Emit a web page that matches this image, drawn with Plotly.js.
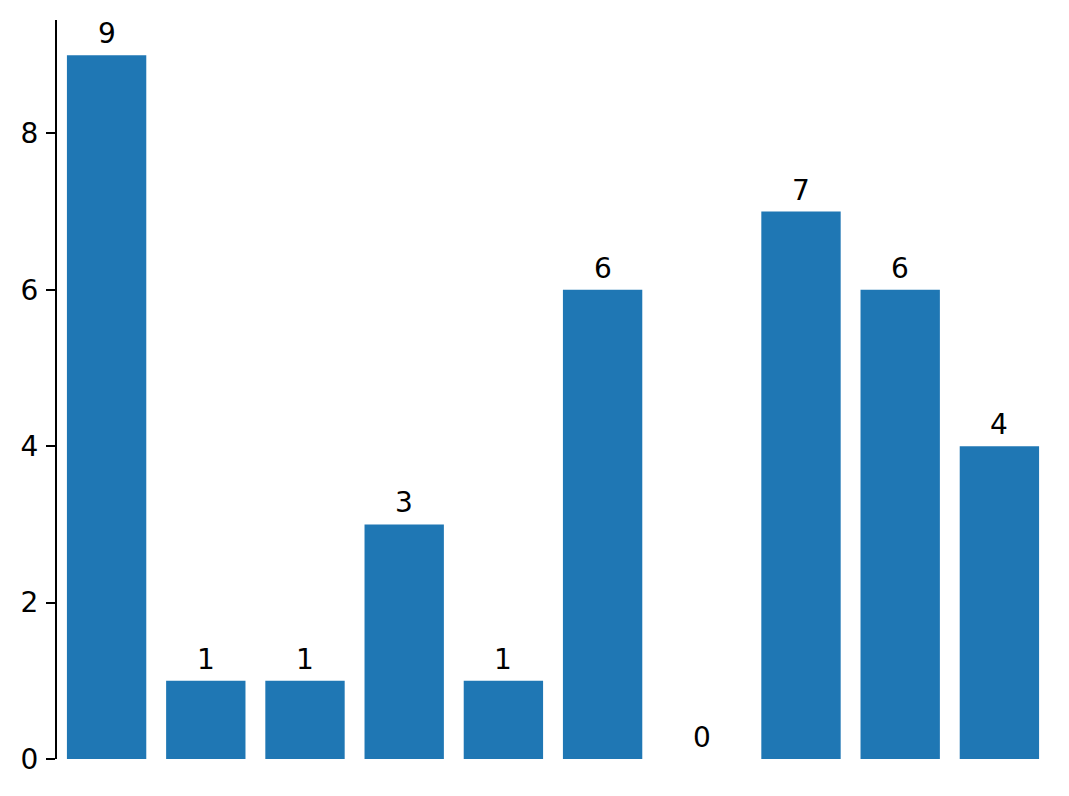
<!DOCTYPE html>
<html>
<head>
<meta charset="utf-8">
<script src="https://cdn.plot.ly/plotly-3.0.1.min.js"></script>
<style>
  body { margin: 0; background: #fff; }
  #myPlot { width: 1069px; height: 796px; }
</style>
</head>
<body>
<div id="myPlot"></div>
<script>
// bar positions and heights
var positions = [0, 1, 2, 3, 4, 5, 6, 7, 8, 9];
var counts = [9, 1, 1, 3, 1, 6, 0, 7, 6, 4];
var yTicks = [0, 2, 4, 6, 8];

var barColor = '#1f77b4';
var fontFamily = 'DejaVu Sans, sans-serif';

var trace1 = {
    x: positions,
    y: counts,
    type: 'bar',
    marker: { color: barColor, line: { width: 0 } },
    hoverinfo: 'none',
    showlegend: false
};

// value labels above each bar
var labels = [];
for (var i = 0; i < positions.length; ++i) {
    labels.push({
        x: positions[i],
        y: counts[i],
        text: String(counts[i]),
        showarrow: false,
        xanchor: 'center',
        yanchor: 'bottom',
        yshift: 3,
        font: { family: fontFamily, size: 28, color: '#000' }
    });
}

var layout = {
    width: 1069,
    height: 796,
    margin: { l: 57, r: 20, t: 20, b: 37 },
    paper_bgcolor: '#fff',
    plot_bgcolor: '#fff',
    bargap: 0.2,
    font: { family: fontFamily, size: 28, color: '#000' },
    xaxis: {
        range: [-0.5, 9.5],
        showticklabels: false,
        ticks: '',
        showline: false,
        showgrid: false,
        zeroline: false
    },
    yaxis: {
        range: [0, 9.45],
        tickvals: yTicks,
        ticktext: yTicks.map(String),
        ticks: 'outside',
        ticklen: 9,
        tickwidth: 2,
        tickcolor: '#000',
        showline: true,
        linewidth: 2,
        linecolor: '#000',
        showgrid: false,
        zeroline: false,
        ticklabelstandoff: 2
    },
    annotations: labels
};

var config = { staticPlot: true, displayModeBar: false };

Plotly.newPlot('myPlot', [trace1], layout, config);
</script>
</body>
</html>
